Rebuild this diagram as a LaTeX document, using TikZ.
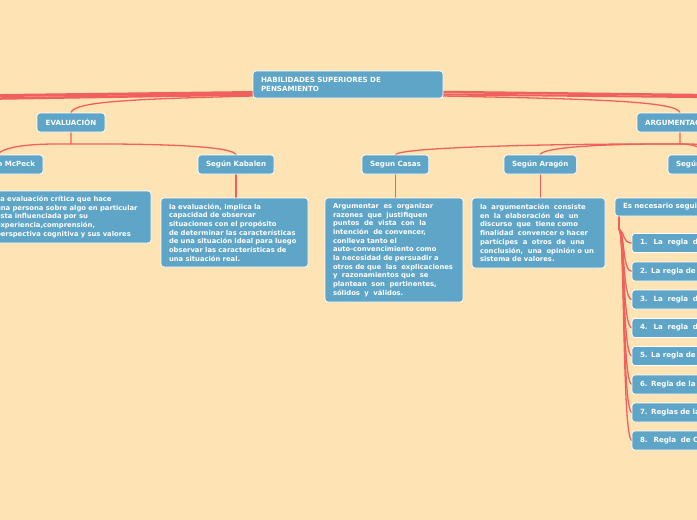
\documentclass[tikz,border=0pt]{standalone}
\usepackage{fontspec}
\setmainfont{DejaVu Sans}
\definecolor{bg}{HTML}{FEE4B4}
\definecolor{boxc}{HTML}{5EA5C8}
\definecolor{linec}{HTML}{F0605D}
\pgfdeclarelayer{back}
\pgfdeclarelayer{lines}
\pgfsetlayers{back,lines,main}
\begin{document}
\begin{tikzpicture}[x=1pt,y=-1pt,
  box/.style={draw=white, line width=0.7pt, fill=boxc, rounded corners=3pt, text=white,
    anchor=north west, inner xsep=8pt, inner ysep=0pt, outer sep=0pt},
  hdr/.style={box, font=\bfseries\fontsize{7.1}{9}\selectfont, minimum height=19pt, align=center},
  body/.style={box, font=\bfseries\fontsize{6.8}{8.7}\selectfont, align=left},
  conn/.style={draw=linec, line width=1.3pt},
  band/.style={draw=linec, line width=#1},
]
\useasboundingbox (0,0) rectangle (697,520);
\begin{pgfonlayer}{back}
\fill[bg] (0,0) rectangle (697,520);
\end{pgfonlayer}

% off-canvas ends
\coordinate (offL1) at (-5,95.6);
\coordinate (offL2) at (-5,98.6);
\coordinate (offR1) at (702,95.1);
\coordinate (offR2) at (702,97.1);
\coordinate (offR3) at (760,155);

% nodes
\node[box, font=\bfseries\fontsize{7.1}{9}\selectfont, text width=174pt, align=left, minimum height=27pt] (main) at (253,71) {HABILIDADES SUPERIORES DE\\PENSAMIENTO};

\node[hdr, minimum width=68pt] (ev) at (37,113) {EVALUACIÓN};
\node[hdr, minimum width=86pt] (arg) at (637,113) {ARGUMENTACIÓN};

\node[hdr, minimum width=93pt, text width=77pt, align=right] (mc) at (-50,155) {Según McPeck};
\node[hdr, minimum width=73pt] (kb) at (198,155) {Según Kabalen};
\node[hdr, minimum width=65pt] (cs) at (362,155) {Segun Casas};
\node[hdr, minimum width=70pt] (ar) at (504,155) {Según Aragón};
\node[hdr, minimum width=74pt, text width=58pt, align=left] (sx) at (668,155) {Según};

\node[body, text width=147pt, minimum height=52pt] (mct) at (-12,191) {La evaluación crítica que hace\\una persona sobre algo en particular\\esta influenciada por su\\experiencia,comprensión,\\perspectiva cognitiva y sus valores};
\node[body, text width=131pt, minimum height=69pt] (kbt) at (161,198) {la evaluación, implica la\\capacidad de observar\\situaciones con el propósito\\de determinar las características\\de una situación ideal para luego\\observar las características de\\una situación real.};
\node[body, text width=122pt, minimum height=104pt] (cst) at (325,198) {Argumentar~ es~ organizar\\razones~ que~ justifiquen\\puntos~ de~ vista~ con~ la\\intención~ de convencer,\\conlleva tanto el\\auto-convencimiento como\\la necesidad de persuadir a\\otros de que~ las~ explicaciones\\y~ razonamientos que~ se\\plantean~ son~ pertinentes,\\sólidos~ y~ válidos.};
\node[body, text width=117pt, minimum height=70pt] (art) at (472,198) {la~ argumentación~ consiste\\en~ la~ elaboración~ de~ un\\discurso~ que~ tiene como\\finalidad~ convencer o hacer\\partícipes~ a~ otros~ de~ una\\conclusión,~ una~ opinión o un\\sistema de valores.};

\node[hdr, minimum width=100pt, text width=84pt, align=left, minimum height=18pt] (en) at (615,198) {Es necesario seguir};

\node[hdr, minimum width=90pt, text width=74pt, align=left] (r1) at (632,233.5) {1.~ La~ regla~ de};
\node[hdr, minimum width=90pt, text width=74pt, align=left] (r2) at (632,262) {2. La regla de l};
\node[hdr, minimum width=90pt, text width=74pt, align=left] (r3) at (632,290) {3.~ La~ regla~ de};
\node[hdr, minimum width=90pt, text width=74pt, align=left] (r4) at (632,318.5) {4.~ La~ regla~ de};
\node[hdr, minimum width=90pt, text width=74pt, align=left] (r5) at (632,346.5) {5. La regla de l};
\node[hdr, minimum width=90pt, text width=74pt, align=left] (r6) at (632,375) {6. Regla de la c};
\node[hdr, minimum width=90pt, text width=74pt, align=left] (r7) at (632,403) {7. Reglas de la};
\node[hdr, minimum width=90pt, text width=74pt, align=left] (r8) at (632,431) {8.~ Regla~ de C};

\coordinate (ej) at ([yshift=-12pt]ev.south);
\coordinate (aj) at ([yshift=-12pt]arg.south);
\coordinate (nj) at ([xshift=4pt,yshift=-13pt]en.south west);

\begin{pgfonlayer}{lines}
\draw[band=3pt] ([yshift=5.5pt]main.south west) -- (offL1);
\draw[band=2.5pt] ([yshift=3.5pt]main.south west) -- (offL2);
\draw[band=2.5pt] ([yshift=6pt]main.south east) -- (offR1);
\draw[band=2pt] ([yshift=3.5pt]main.south east) -- (offR2);
\draw[conn] ([yshift=2pt]main.south west) .. controls (140,99) and (72,101) .. (ev.north);
\draw[conn] ([yshift=2pt]main.south east) .. controls (590,99) and (679,101) .. (arg.north);
\draw[conn] (ev.south) -- (ej) .. controls (30,143.5) and (5,146) .. (mc.north);
\draw[conn] (ej) .. controls (160,143.5) and (234,146) .. (kb.north);
\draw[conn] (arg.south) -- (aj) .. controls (560,143.5) and (396,147) .. (cs.north);
\draw[conn] (aj) .. controls (610,143.5) and (540,147) .. (ar.north);
\draw[conn] (aj) .. controls (690,143.5) and (705,147) .. (sx.north);
\draw[conn] (aj) .. controls (700,143.5) and (755,147) .. (offR3);
\draw[conn] (mc.south) -- (mc.south |- mct.north);
\draw[conn] (kb.south) -- (kb.south |- kbt.north);
\draw[conn] (cs.south) -- (cs.south |- cst.north);
\draw[conn] (ar.south) -- (ar.south |- art.north);
\draw[conn] ([xshift=4pt]en.south west) -- (nj);
\foreach \i in {1,...,8}{
  \draw[conn] (nj) .. controls +(6,3) and +(-10,0) .. (r\i.west);
}
\end{pgfonlayer}
\end{tikzpicture}
\end{document}
